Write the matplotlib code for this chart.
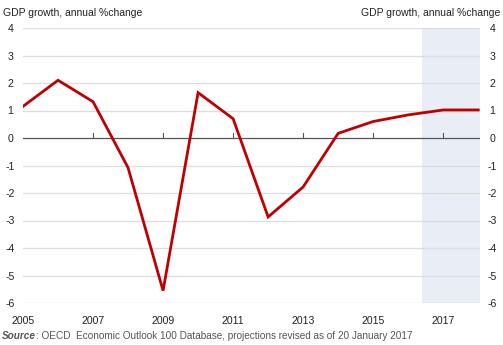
import matplotlib.pyplot as plt

plt.rcParams['font.family'] = ['Liberation Sans', 'DejaVu Sans']

years = [2005, 2006, 2007, 2008, 2009, 2010, 2011, 2012, 2013, 2014, 2015, 2016, 2017, 2018]
gdp = [1.15, 2.1, 1.32, -1.08, -5.55, 1.65, 0.7, -2.87, -1.78, 0.17, 0.6, 0.84, 1.02, 1.02]
proj_start = 2016.4
yticks = [4, 3, 2, 1, 0, -1, -2, -3, -4, -5, -6]
xticks = [2005, 2007, 2009, 2011, 2013, 2015, 2017]
title = 'GDP growth, annual %change'

fig = plt.figure(figsize=(5.03, 3.45), dpi=100)
ax = fig.add_axes([23 / 503, 1 - 303 / 345, 457 / 503, 275 / 345])

# projection period
ax.axvspan(proj_start, 2018.05, color='#E9EDF5', zorder=0, lw=0)

for y in yticks:
    if y != 0:
        ax.axhline(y, color='#DDDDDD', lw=0.9, zorder=1)
ax.axhline(0, color='#555555', lw=0.9, zorder=2)
for x in xticks[1:]:
    ax.plot([x, x], [0, 0.18], color='#555555', lw=0.8, zorder=2)

ax.plot(years, gdp, color='#C00000', lw=2.0, zorder=3, solid_joinstyle='miter')

ax.set_xlim(2005, 2018.05)
ax.set_ylim(-6, 4)
for s in ax.spines.values():
    s.set_visible(False)
ax.set_xticks(xticks)
ax.set_xticklabels([str(x) for x in xticks], fontsize=7.6, color='#222222')
ax.tick_params(axis='x', length=0, pad=9)
ax.set_yticks(yticks)
ax.set_yticklabels([str(y) for y in yticks], fontsize=7.6, color='#222222')
ax.tick_params(axis='y', length=0, labelleft=True, labelright=True, pad=9)
for lab in ax.get_yticklabels():
    lab.set_horizontalalignment('center')

fig.text(3 / 503, 1 - 13 / 345, title, fontsize=7.5, color='#222222', va='center', ha='left')
fig.text(500 / 503, 1 - 13 / 345, title, fontsize=7.5, color='#222222', va='center', ha='right')

src = fig.text(2 / 503, 1 - 336 / 345, 'Source', fontsize=7.2, color='#555555',
               fontweight='bold', fontstyle='italic', va='center', ha='left')
fig.canvas.draw()
bb = src.get_window_extent()
fig.text(bb.x1 / 503 / fig.dpi * 100, 1 - 336 / 345,
         ': OECD  Economic Outlook 100 Database, projections revised as of 20 January 2017',
         fontsize=7.2, color='#555555', va='center', ha='left')

fig.savefig('out.png', dpi=100)
